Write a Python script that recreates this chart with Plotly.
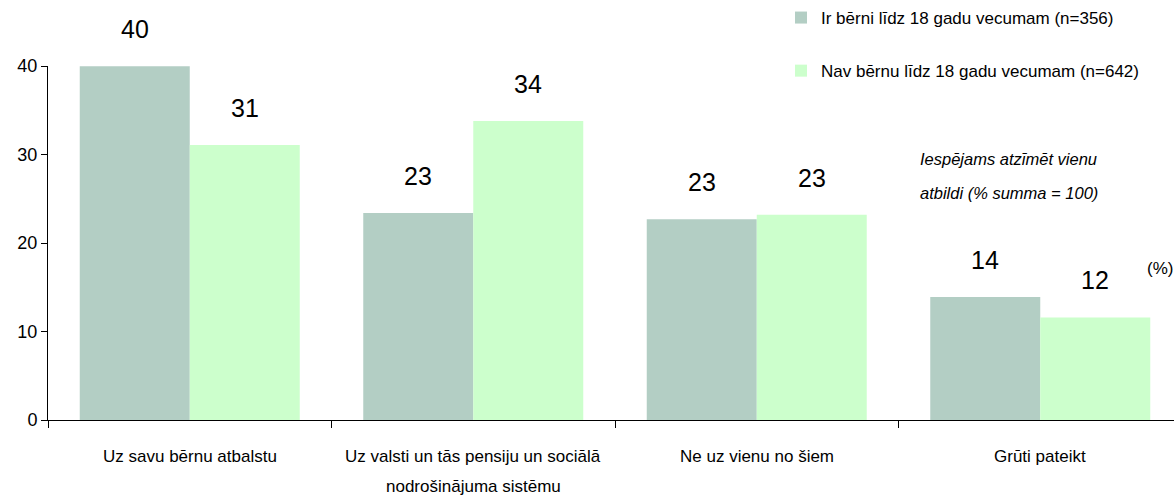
import plotly.graph_objects as go

cat_line1 = ["Uz savu bērnu atbalstu", "Uz valsti un tās pensiju un sociālā",
             "Ne uz vienu no šiem", "Grūti pateikt"]
cat_line2 = ["", "nodrošinājuma sistēmu", "", ""]
series_names = ["Ir bērni līdz 18 gadu vecumam (n=356)",
                "Nav bērnu līdz 18 gadu vecumam (n=642)"]
with_kids = [40.0, 23.4, 22.7, 13.9]
without_kids = [31.1, 33.8, 23.2, 11.6]
colors = ["#B3CEC4", "#CCFFCC"]
y_ticks = [0, 10, 20, 30, 40]

font = "Liberation Sans, Arial, sans-serif"

fig = go.Figure()
for name, vals, col, grp in zip(series_names, [with_kids, without_kids], colors, ["a", "b"]):
    fig.add_trace(go.Bar(x=cat_line1, y=vals, name=name, marker=dict(color=col, line=dict(width=0)),
                         legendgroup=grp))

ann = []
for vals, xs in [(with_kids, -55), (without_kids, 55)]:
    for c, v in zip(cat_line1, vals):
        ann.append(dict(x=c, y=v, text=str(round(v)), showarrow=False, xshift=xs, yshift=37,
                        font=dict(size=25, color="#000", family=font)))
for c, l1, l2 in zip(cat_line1, cat_line1, cat_line2):
    ann.append(dict(x=c, y=0, yref="y", text=l1, showarrow=False, yshift=-36,
                    font=dict(size=17, color="#000", family=font)))
    if l2:
        ann.append(dict(x=c, y=0, yref="y", text=l2, showarrow=False, yshift=-66,
                        font=dict(size=17, color="#000", family=font)))
ann.append(dict(xref="paper", yref="paper", x=(918 - 48) / 1126, y=1 + (66 - 148) / 354,
                text="<i>Iespējams atzīmēt vienu</i>", showarrow=False, xanchor="left",
                font=dict(size=16.5, color="#000", family=font)))
ann.append(dict(xref="paper", yref="paper", x=(918 - 48) / 1126, y=1 + (66 - 182) / 354,
                text="<i>atbildi (% summa = 100)</i>", showarrow=False, xanchor="left",
                font=dict(size=16.5, color="#000", family=font)))
ann.append(dict(xref="paper", yref="paper", x=(1145 - 48) / 1126, y=1 + (66 - 268) / 354,
                text="(%)", showarrow=False, xanchor="left",
                font=dict(size=17, color="#000", family=font)))

fig.update_layout(
    width=1174, height=497,
    margin=dict(l=48, r=0, t=66, b=77, autoexpand=False),
    paper_bgcolor="white", plot_bgcolor="white",
    barmode="group", bargap=0.224, bargroupgap=0,
    font=dict(family=font, color="#000"),
    showlegend=True,
    legend=dict(x=(781 - 48) / 1126, y=1 + 66 / 354, xanchor="left", yanchor="top",
                font=dict(size=17, family=font), traceorder="grouped", tracegroupgap=28,
                bgcolor="rgba(0,0,0,0)"),
    annotations=ann,
    xaxis=dict(type="category", range=[-0.5, -0.5 + 1126 / 283.5], tickson="boundaries",
               ticks="outside", ticklen=7, tickcolor="#000", showticklabels=False,
               showline=True, linecolor="#000", linewidth=1, showgrid=False, zeroline=False),
    yaxis=dict(range=[0, 40.02], tickvals=y_ticks, ticks="outside", ticklen=6, tickcolor="#000",
               showline=True, linecolor="#000", linewidth=1, showgrid=False, zeroline=False,
               tickfont=dict(size=18, family=font)),
)
fig.write_html("out.html", config={"displayModeBar": False},
               post_script="document.body.style.margin='0';document.body.style.overflow='hidden';")
